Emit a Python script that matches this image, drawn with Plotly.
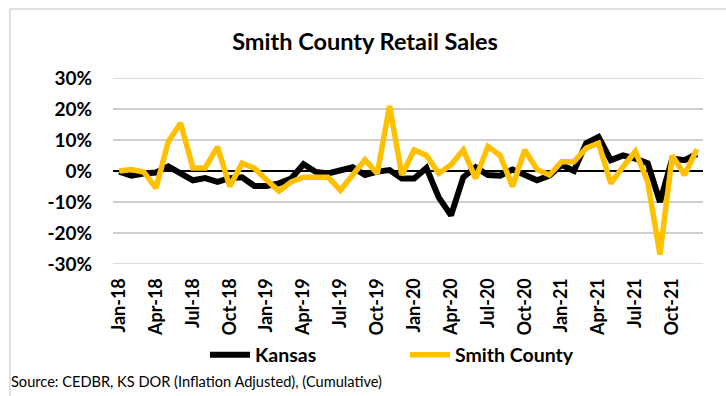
import plotly.graph_objects as go

months = [f"{m}-{y}" for y in ["18", "19", "20", "21"]
          for m in ["Jan", "Feb", "Mar", "Apr", "May", "Jun", "Jul", "Aug", "Sep", "Oct", "Nov", "Dec"]]

kansas = [-0.2, -1.5, -0.8, -0.5, 1.5, -1.0, -3.0, -2.3, -3.5, -2.3, -2.0, -4.8,
          -4.8, -4.0, -2.4, 2.2, -0.3, -0.8, 0.3, 1.2, -1.3, -0.2, 0.3, -2.4,
          -2.4, 1.0, -8.5, -14.3, -2.0, 1.2, -1.3, -1.5, 0.5, -1.5, -3.0, -1.5,
          2.0, 0.0, 9.0, 11.0, 3.5, 5.0, 4.0, 2.5, -10.0, 4.0, 3.5, 5.5]

smith = [0.0, 0.5, -0.3, -5.5, 9.5, 15.5, 1.0, 1.0, 7.8, -5.0, 2.5, 0.9,
         -2.9, -6.5, -3.5, -2.0, -2.0, -2.0, -6.2, -1.3, 3.6, -0.8, 21.0, -1.3,
         6.8, 5.0, -0.8, 2.0, 6.8, -2.4, 7.9, 5.0, -5.0, 6.8, 0.5, -1.3,
         3.0, 3.0, 7.4, 9.0, -4.0, 1.4, 6.3, -3.5, -27.0, 5.0, -1.3, 7.0]

y_ticks = [30, 20, 10, 0, -10, -20, -30]
y_labels = [f"{v}%" for v in y_ticks]

FONT = "Lato"

fig = go.Figure()

# horizontal gridlines at the y tick values (zero handled by the axis zero line)
for v in y_ticks:
    if v != 0:
        fig.add_hline(y=v, line=dict(color="#cfcfcf", width=1.5), layer="below")

fig.add_trace(go.Scatter(x=months, y=kansas, name="Kansas", mode="lines",
                         line=dict(color="#000000", width=6)))
fig.add_trace(go.Scatter(x=months, y=smith, name="Smith County", mode="lines",
                         line=dict(color="#FFC000", width=5.5)))

fig.update_layout(
    template="none",
    width=726, height=396,
    margin=dict(l=113, r=23, t=78, b=132, autoexpand=False),
    paper_bgcolor="white", plot_bgcolor="white",
    font=dict(family=FONT, color="#000000"),
    title=dict(text="<b>Smith County Retail Sales</b>", x=(365 - 113) / 590, xref="paper",
               xanchor="center", y=1 - 42 / 396, yanchor="middle",
               font=dict(size=23.5, family=FONT)),
    xaxis=dict(type="category", categoryorder="array", categoryarray=months,
               range=[-0.5, 47.5], showgrid=False, showline=False,
               ticks="outside", ticklen=6, tickcolor="rgba(0,0,0,0)",
               tickmode="linear", tick0=0, dtick=3, tickangle=-90,
               tickfont=dict(size=18, family=FONT, weight="bold"), zeroline=False),
    yaxis=dict(range=[-30, 30], tickmode="array", tickvals=y_ticks, ticktext=y_labels,
               showgrid=True, gridcolor="#cfcfcf", gridwidth=1.5,
               zeroline=True, zerolinecolor="#000000", zerolinewidth=2, showline=False,
               ticks="outside", ticklen=16, tickcolor="rgba(0,0,0,0)",
               tickfont=dict(size=19, family=FONT, weight="bold")),
    legend=dict(orientation="h", x=(205 - 113) / 590, xanchor="left",
                y=(264 - 355) / 186, yanchor="middle",
                entrywidth=145, entrywidthmode="pixels",
                font=dict(size=19.5, family=FONT, weight="bold"),
                bgcolor="rgba(0,0,0,0)", itemwidth=40),
    showlegend=True,
)

fig.add_annotation(text="Source: CEDBR, KS DOR (Inflation Adjusted), (Cumulative)",
                   xref="paper", yref="paper", x=(9 - 113) / 590, y=(264 - 381) / 186,
                   xanchor="left", yanchor="middle", showarrow=False,
                   font=dict(size=14.6, family=FONT, color="#000000"))

fig.add_shape(type="rect", xref="paper", yref="paper",
              x0=(10 - 113) / 590, x1=(730 - 113) / 590,
              y0=(264 - 400) / 186, y1=(264 - 9) / 186,
              line=dict(color="#bfbfbf", width=1), fillcolor="rgba(0,0,0,0)", layer="above")

fig.write_html("out.html", config={"displayModeBar": False},
               post_script="document.body.style.margin='0';document.body.style.overflow='hidden';")
